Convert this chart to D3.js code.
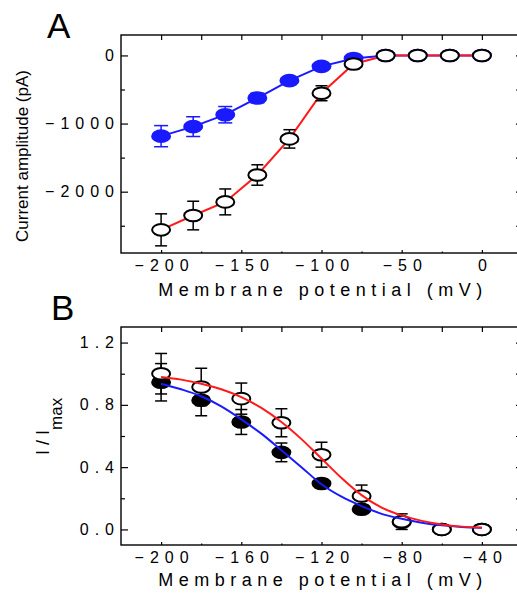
<!DOCTYPE html>
<html lang="en">
<head>
<meta charset="UTF-8">
<script src="https://d3js.org/d3.v7.min.js"></script>
<style>
    html, body { margin: 0; padding: 0; background: #fff; overflow: hidden; }
    svg { font-family: "Liberation Sans", Arial, sans-serif; }
    .tick line { stroke: #000; stroke-width: 1.2px; }
    .domain { display: none; }
</style>
</head>
<body>
<svg id="chart" width="517" height="594"></svg>
<script>
// panel A: current amplitude vs membrane potential
const voltsA = [-200, -180, -160, -140, -120, -100, -80, -60, -40, -20, 0];
const ctrlA = [-2560, -2350, -2150, -1755, -1225, -555, -125, 0, 0, 0, 0];
const ctrlErrA = [235, 210, 190, 150, 135, 110, 75, 50, 50, 50, 50];
const drugA = [-1185, -1045, -870, -625, -370, -160, -45, 0, 0, 0, 0];
const drugErrA = [155, 145, 120, 70, 50, 40, 30, 20, 20, 20, 20];

// panel B: normalised current with Boltzmann fits
const voltsB = [-200, -180, -160, -140, -120, -100, -80, -60, -40];
const openB = [1.0, 0.915, 0.84, 0.685, 0.48, 0.215, 0.05, 0, 0];
const openErrB = [0.13, 0.12, 0.10, 0.09, 0.08, 0.07, 0.05, 0.02, 0.02];
const filledB = [0.945, 0.83, 0.69, 0.495, 0.295, 0.13, 0.045, 0, 0];
const filledErrB = [0.12, 0.10, 0.08, 0.06, 0.03, 0.02, 0.02, 0.01, 0.01];
const fitVolts = [-200, -190, -180, -170, -160, -150, -140, -130, -120, -110, -100, -90, -80, -70, -60, -50, -40];
const fitOpen = [0.979, 0.962, 0.936, 0.90, 0.85, 0.78, 0.69, 0.58, 0.455, 0.33, 0.22, 0.14, 0.09, 0.055, 0.032, 0.018, 0.011];
const fitFilled = [0.936, 0.90, 0.855, 0.79, 0.707, 0.615, 0.508, 0.40, 0.29, 0.21, 0.15, 0.10, 0.068, 0.043, 0.026, 0.016, 0.011];

const ticksAx = [-200, -150, -100, -50, 0];
const ticksAy = [0, -1000, -2000];
const ticksBx = [-200, -160, -120, -80, -40];
const ticksBy = [0, 0.4, 0.8, 1.2];

const svg = d3.select("#chart");
const LS = 6; // letter spacing of tick labels
const blue = "#1a1aff", red = "#ff1a1a";

function frame(g, x, y, o) {
    const [x0, x1] = x.range(), [y1, y0] = y.range();
    g.append("rect").attr("x", x0).attr("y", y0).attr("width", x1 - x0).attr("height", y1 - y0)
        .attr("fill", "none").attr("stroke", "#000").attr("stroke-width", 1.4);

    // left axis
    g.append("g").attr("transform", `translate(${x0},0)`)
        .call(d3.axisLeft(y).tickValues(o.yMajor).tickSize(-7).tickPadding(7 - LS).tickFormat(o.yFmt))
        .call(s => s.selectAll("text").attr("font-size", 16).attr("letter-spacing", LS).attr("fill", "#000"));
    g.append("g").attr("transform", `translate(${x0},0)`)
        .call(d3.axisLeft(y).tickValues(o.yMinor).tickSize(-4).tickFormat(""));
    g.append("g").attr("transform", `translate(${x1},0)`)
        .call(d3.axisRight(y).tickValues(o.yMajor.concat(o.yMinor)).tickSize(-6).tickFormat(""));

    // top ticks
    g.append("g").attr("transform", `translate(0,${y0})`)
        .call(d3.axisTop(x).tickValues(o.xAll).tickSize(-5).tickFormat(""));

    // bottom axis
    g.append("g").attr("transform", `translate(0,${y1})`)
        .call(d3.axisBottom(x).tickValues(o.xMajor).tickSize(-3).tickPadding(6.5).tickFormat(d3.format("d")))
        .call(s => s.selectAll("text").attr("font-size", 16).attr("letter-spacing", LS)
            .attr("dx", LS / 2).attr("fill", "#000"));
    g.append("g").attr("transform", `translate(0,${y1})`)
        .call(d3.axisBottom(x).tickValues(o.xAll.filter(v => !o.xMajor.includes(v))).tickSize(-1.5).tickFormat(""));

    g.append("text").attr("x", 320 + 3).attr("y", o.titleY).attr("text-anchor", "middle")
        .attr("font-size", 18).attr("letter-spacing", 5.5).text("Membrane potential (mV)");

    g.append("text").attr("x", o.letterX).attr("y", o.letterY).attr("font-size", 35).text(o.letter);
}

function errorBars(g, x, y, xs, ys, es, color, cap) {
    const eb = g.append("g").attr("stroke", color).attr("stroke-width", 1.5);
    xs.forEach((v, i) => {
        const cx = x(v), top = y(ys[i] + es[i]), bot = y(ys[i] - es[i]);
        eb.append("line").attr("x1", cx).attr("x2", cx).attr("y1", top).attr("y2", bot);
        eb.append("line").attr("x1", cx - cap).attr("x2", cx + cap).attr("y1", top).attr("y2", top);
        eb.append("line").attr("x1", cx - cap).attr("x2", cx + cap).attr("y1", bot).attr("y2", bot);
    });
}

function markers(g, x, y, xs, ys, fill, stroke) {
    g.append("g").selectAll("ellipse").data(xs).join("ellipse")
        .attr("cx", d => x(d)).attr("cy", (d, i) => y(ys[i]))
        .attr("rx", 9).attr("ry", 5.8)
        .attr("fill", fill).attr("stroke", stroke).attr("stroke-width", 2);
}

// ---- Panel A ----
{
    const x = d3.scaleLinear().domain([-225, 25]).range([121, 522]);
    const y = d3.scaleLinear().domain([-2900, 300]).range([253, 35]);
    const g = svg.append("g");
    frame(g, x, y, {
        yMajor: ticksAy, yMinor: [-500, -1500, -2500], yFmt: d3.format("d"),
        xMajor: ticksAx, xAll: d3.range(-200, 1, 25),
        titleY: 296, letter: "A", letterX: 47, letterY: 38
    });
    g.append("text").attr("transform", "translate(28,156) rotate(-90)").attr("text-anchor", "middle")
        .attr("font-size", 17).text("Current amplitude (pA)");

    const line = d3.line().x(d => x(d[0])).y(d => y(d[1]));
    g.append("path").datum(voltsA.map((v, i) => [v, drugA[i]])).attr("d", line)
        .attr("fill", "none").attr("stroke", blue).attr("stroke-width", 2);
    g.append("path").datum(voltsA.map((v, i) => [v, ctrlA[i]])).attr("d", line)
        .attr("fill", "none").attr("stroke", red).attr("stroke-width", 2);
    errorBars(g, x, y, voltsA, drugA, drugErrA, blue, 7);
    markers(g, x, y, voltsA, drugA, blue, blue);
    errorBars(g, x, y, voltsA, ctrlA, ctrlErrA, "#000", 6);
    markers(g, x, y, voltsA, ctrlA, "#fff", "#000");
}

// ---- Panel B ----
{
    const x = d3.scaleLinear().domain([-220, -20]).range([121, 522]);
    const y = d3.scaleLinear().domain([-0.1, 1.3]).range([545, 327]);
    const g = svg.append("g");
    frame(g, x, y, {
        yMajor: ticksBy, yMinor: [0.2, 0.6, 1.0], yFmt: d3.format(".1f"),
        xMajor: ticksBx, xAll: d3.range(-200, -39, 20),
        titleY: 586, letter: "B", letterX: 51, letterY: 320
    });
    const yl = g.append("text").attr("transform", "translate(49,455) rotate(-90)").attr("font-size", 18);
    yl.append("tspan").text("I / I");
    yl.append("tspan").attr("dy", 12.5).attr("font-size", 17).text("max");

    errorBars(g, x, y, voltsB, filledB, filledErrB, "#000", 6);
    markers(g, x, y, voltsB, filledB, "#000", "#000");
    errorBars(g, x, y, voltsB, openB, openErrB, "#000", 6);
    markers(g, x, y, voltsB, openB, "#fff", "#000");

    const curve = d3.line().x(d => x(d[0])).y(d => y(d[1])).curve(d3.curveMonotoneX);
    g.append("path").datum(fitVolts.map((v, i) => [v, fitFilled[i]])).attr("d", curve)
        .attr("fill", "none").attr("stroke", blue).attr("stroke-width", 2);
    g.append("path").datum(fitVolts.map((v, i) => [v, fitOpen[i]])).attr("d", curve)
        .attr("fill", "none").attr("stroke", red).attr("stroke-width", 2);
}
</script>
</body>
</html>
